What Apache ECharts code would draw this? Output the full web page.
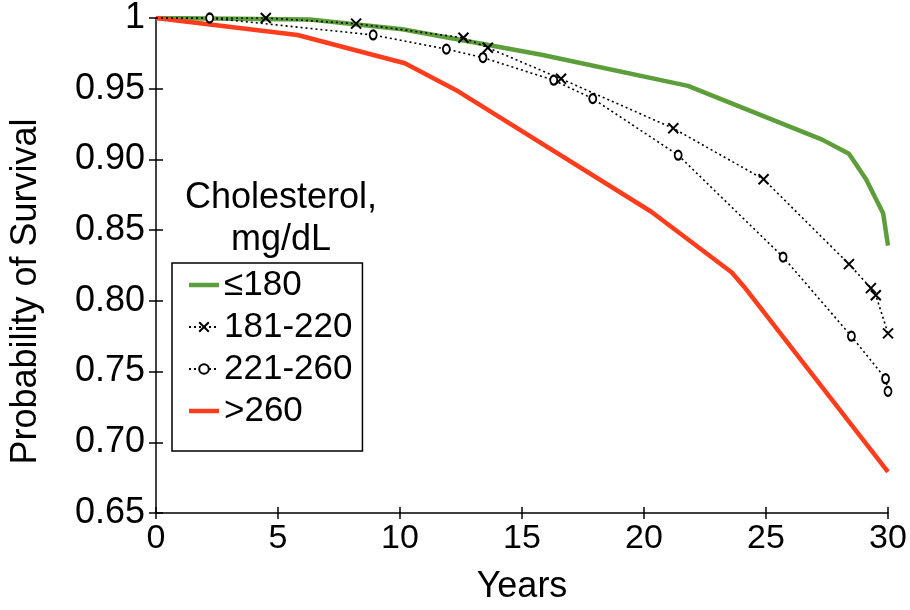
<!DOCTYPE html>
<html>
<head>
<meta charset="utf-8">
<script src="https://cdn.jsdelivr.net/npm/echarts@6/dist/echarts.min.js"></script>
<style>html,body{margin:0;padding:0;background:#fff}#chart{width:910px;height:610px}</style>
</head>
<body>
<div id="chart"></div>
<script>
// ---- data ----
const seriesNames = ['≤180', '181-220', '221-260', '>260'];
const legendTitle = 'Cholesterol,\nmg/dL';
const xTickValues = [0, 5, 10, 15, 20, 25, 30];
const yTickLabels = ['0.65', '0.70', '0.75', '0.80', '0.85', '0.90', '0.95', '1'];

const yearsLe180 = [0, 6.3, 10.1, 15.8, 21.8, 27.3, 28.4, 29.1, 29.8, 30];
const survLe180  = [1.0, 0.999, 0.992, 0.974, 0.952, 0.914, 0.904, 0.886, 0.862, 0.839];

const years181 = [0, 4.5, 8.2, 12.6, 13.6, 16.6, 21.2, 24.9, 28.4, 29.3, 29.5, 30.0];
const surv181  = [1.0, 1.0, 0.996, 0.986, 0.979, 0.957, 0.922, 0.886, 0.826, 0.809, 0.804, 0.777];

const years221 = [0, 2.2, 8.9, 11.9, 13.4, 16.3, 17.9, 21.4, 25.7, 28.5, 29.9, 30.0];
const surv221  = [1.0, 1.0, 0.988, 0.978, 0.972, 0.956, 0.943, 0.903, 0.831, 0.775, 0.745, 0.736];

const yearsGt260 = [0, 5.8, 10.2, 12.4, 20.3, 23.6, 24.1, 30];
const survGt260  = [1.0, 0.988, 0.968, 0.948, 0.863, 0.820, 0.810, 0.679];

// ---- build ----
function pairs(xs, ys, firstNoSymbol) {
  return xs.map((x, i) => {
    if (firstNoSymbol && i === 0) return { value: [x, ys[i]], symbol: 'none' };
    return [x, ys[i]];
  });
}
const FONT = '"Liberation Sans", Arial, sans-serif';
const GREEN = '#5c9e3a';
const RED = '#ff3d1c';
const CROSS = 'path://M0,0L10,10M10,0L0,10';
const BAR_ICON = 'path://M0,0H30V4.5H0Z';

const chart = echarts.init(document.getElementById('chart'), null, { renderer: 'canvas' });
const axisCommon = { min: 0, max: 30, interval: 5 };
chart.setOption({
  animation: false,
  backgroundColor: '#ffffff',
  title: {
    text: legendTitle,
    left: 276,
    top: 172,
    textAlign: 'center',
    textStyle: { fontFamily: FONT, fontSize: 36, fontWeight: 'normal', color: '#000', lineHeight: 42 }
  },
  legend: {
    orient: 'vertical',
    left: 172,
    top: 263,
    padding: [4, 10, 22, 16],
    itemWidth: 30,
    itemHeight: 12,
    itemGap: 6,
    borderColor: '#000',
    borderWidth: 1.5,
    data: [
      { name: seriesNames[0], icon: BAR_ICON },
      { name: seriesNames[1] },
      { name: seriesNames[2] },
      { name: seriesNames[3], icon: BAR_ICON }
    ],
    textStyle: { fontFamily: FONT, fontSize: 35, color: '#000', lineHeight: 36 }
  },
  grid: { left: 153, right: 22, top: 15, bottom: 95, containLabel: false },
  xAxis: [{
    type: 'value', ...axisCommon,
    name: 'Years', nameLocation: 'middle', nameGap: 56,
    nameTextStyle: { fontFamily: FONT, fontSize: 36, color: '#000' },
    axisLine: { show: true, onZero: false, lineStyle: { color: '#000', width: 1.5 } },
    axisTick: { show: true, length: 6, lineStyle: { color: '#000', width: 1.5 } },
    axisLabel: { margin: 9, fontFamily: FONT, fontSize: 34, color: '#000',
      formatter: v => xTickValues.includes(v) ? String(v) : '' },
    splitLine: { show: false }
  }, {
    type: 'value', ...axisCommon, position: 'bottom',
    axisLine: { show: false },
    axisTick: { show: true, inside: true, length: 6, lineStyle: { color: '#000', width: 1.5 } },
    axisLabel: { show: false }, splitLine: { show: false }
  }],
  yAxis: [{
    type: 'value', min: 0.65, max: 1, interval: 0.05,
    name: 'Probability of Survival', nameLocation: 'middle', nameGap: 112, nameRotate: 90,
    nameTextStyle: { fontFamily: FONT, fontSize: 36, color: '#000', padding: [0, 52, 0, 0] },
    axisLine: { show: true, onZero: false, lineStyle: { color: '#000', width: 1.5 } },
    axisTick: { show: true, length: 7, lineStyle: { color: '#000', width: 1.5 } },
    axisLabel: { margin: 11, fontFamily: FONT, fontSize: 36, color: '#000',
      formatter: v => yTickLabels[Math.round((v - 0.65) / 0.05)] },
    splitLine: { show: false }
  }, {
    type: 'value', min: 0.65, max: 1, interval: 0.05, position: 'left',
    axisLine: { show: false },
    axisTick: { show: true, inside: true, length: 7, lineStyle: { color: '#000', width: 1.5 } },
    axisLabel: { show: false }, splitLine: { show: false }
  }],
  series: [
    {
      name: seriesNames[0], type: 'line', data: pairs(yearsLe180, survLe180),
      symbol: 'none', z: 3,
      itemStyle: { color: GREEN },
      lineStyle: { color: GREEN, width: 4.5 }
    },
    {
      name: seriesNames[1], type: 'line', data: pairs(years181, surv181, true),
      symbol: CROSS, symbolSize: 10, z: 4,
      itemStyle: { color: 'transparent', borderColor: '#000', borderWidth: 2 },
      lineStyle: { color: '#000', width: 1.6, type: [2, 3] }
    },
    {
      name: seriesNames[2], type: 'line', data: pairs(years221, surv221, true),
      symbol: 'emptyCircle', symbolSize: [7, 9], z: 4,
      itemStyle: { color: '#000', borderColor: '#000', borderWidth: 2 },
      lineStyle: { color: '#000', width: 1.6, type: [2, 3] }
    },
    {
      name: seriesNames[3], type: 'line', data: pairs(yearsGt260, survGt260),
      symbol: 'none', z: 3,
      itemStyle: { color: RED },
      lineStyle: { color: RED, width: 4.5 }
    }
  ]
});
</script>
</body>
</html>
